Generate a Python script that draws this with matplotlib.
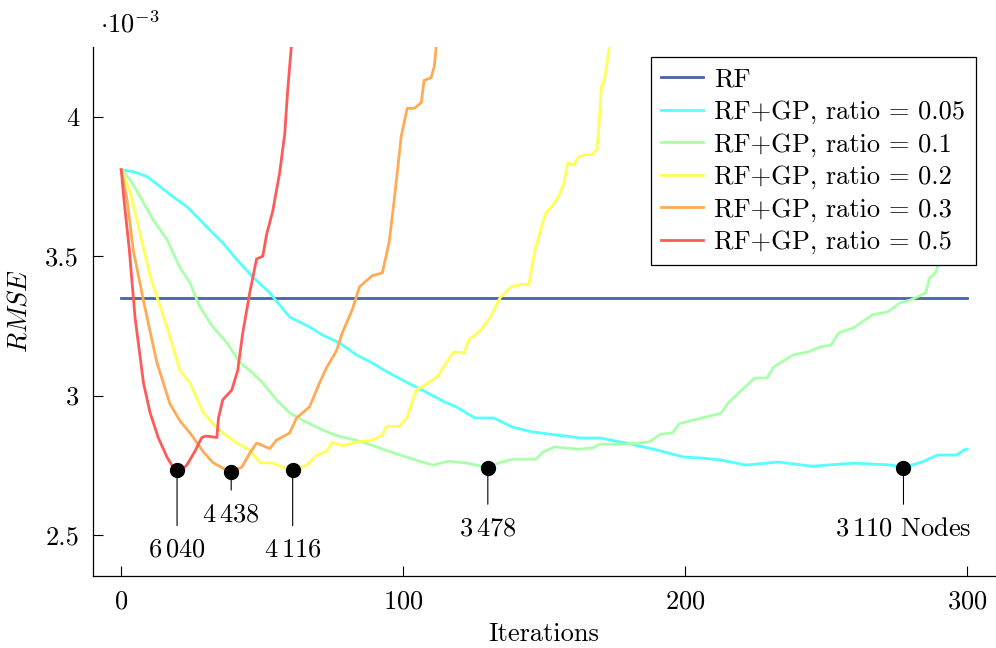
import matplotlib
matplotlib.use("Agg")
import matplotlib.pyplot as plt
from matplotlib.ticker import FuncFormatter

# RMSE values are in units of 1e-3 (shown as "·10^-3" above the axis)
rf_x = [0, 300]
rf_y = [3.35, 3.35]

r05_x = [0, 4.3, 9.2, 13.8, 18.4, 23.3, 26.9, 31.4, 36, 41, 46.6, 52.7, 59.7, 66.8,
         71.4, 77.4, 83.4, 89, 95, 101, 106.7, 114.7, 118.7, 125.4, 132, 138.8, 145.6,
         155, 163, 169.8, 179, 190, 199.3, 206, 212.7, 221.6, 232.9, 244.9, 259.7,
         273.2, 277.4, 284, 289.4, 296.1, 299.4, 300]
r05_y = [3.81, 3.803, 3.785, 3.749, 3.713, 3.677, 3.641, 3.594, 3.548, 3.487, 3.426,
         3.368, 3.282, 3.246, 3.217, 3.189, 3.146, 3.117, 3.081, 3.049, 3.02, 2.977,
         2.96, 2.92, 2.92, 2.887, 2.87, 2.858, 2.848, 2.848, 2.83, 2.805, 2.78, 2.776,
         2.769, 2.751, 2.762, 2.747, 2.758, 2.751, 2.742, 2.762, 2.787, 2.787, 2.808,
         2.808]

r1_x = [0, 3.2, 6.7, 11.3, 16.2, 20.8, 24.4, 27.9, 32.5, 37.5, 42, 46.6, 50.2, 55.1,
        59.7, 64.3, 69.3, 73.9, 78.4, 83.4, 89, 95, 101, 106.7, 110.6, 115.9, 122.6,
        128.8, 130, 133.6, 138.9, 147, 149.6, 153.7, 161.8, 167.1, 169.8, 179, 187.3,
        191.2, 195.4, 198, 206, 212.7, 215.5, 220.8, 224.7, 229, 231.4, 238.3, 243.7,
        247.7, 251.8, 254.4, 259.7, 266.4, 271.9, 276, 279.9, 285.3, 286.6, 288.7,
        289.4, 292, 296, 300]
r1_y = [3.81, 3.774, 3.713, 3.63, 3.56, 3.46, 3.404, 3.318, 3.246, 3.189, 3.12, 3.081,
        3.045, 2.984, 2.938, 2.912, 2.887, 2.866, 2.851, 2.84, 2.822, 2.80, 2.78, 2.762,
        2.751, 2.765, 2.758, 2.745, 2.74, 2.758, 2.772, 2.772, 2.798, 2.816, 2.808,
        2.812, 2.826, 2.826, 2.834, 2.862, 2.866, 2.90, 2.92, 2.937, 2.977, 3.027,
        3.063, 3.063, 3.103, 3.146, 3.157, 3.174, 3.182, 3.225, 3.243, 3.29, 3.30,
        3.332, 3.343, 3.368, 3.422, 3.44, 3.46, 3.56, 3.65, 3.75]

r2_x = [0, 3.2, 6.7, 10.2, 13.8, 17.3, 20.8, 24.4, 29, 32.5, 36, 41, 45.6, 49.1, 53.7,
        57.2, 60.8, 65.7, 69.3, 72.8, 74.9, 78.4, 83.4, 89, 92.6, 94, 98.6, 101.3,
        104.6, 108, 112, 115.9, 118, 121.5, 123.3, 127.5, 130.8, 134.3, 138.2, 142.4,
        144.5, 145.6, 147, 150.5, 152.7, 155, 157, 158.3, 160.4, 162.2, 164.7, 166.8,
        168.6, 169.3, 170.3, 171.4, 173.1, 174]
r2_y = [3.81, 3.73, 3.58, 3.43, 3.32, 3.21, 3.09, 3.045, 2.94, 2.90, 2.866, 2.83, 2.805,
        2.76, 2.758, 2.744, 2.733, 2.75, 2.787, 2.80, 2.833, 2.82, 2.833, 2.84, 2.858,
        2.89, 2.89, 2.92, 3.02, 3.04, 3.067, 3.128, 3.157, 3.153, 3.20, 3.235, 3.28,
        3.35, 3.39, 3.40, 3.397, 3.46, 3.533, 3.655, 3.677, 3.713, 3.762, 3.835, 3.827,
        3.856, 3.864, 3.864, 3.88, 3.953, 4.108, 4.133, 4.25, 4.32]

r3_x = [0, 2.1, 4.3, 7.9, 12.6, 17.3, 20.8, 24.4, 29, 32.5, 36, 39, 42.8, 45.6, 48,
        52.7, 55, 59.7, 62.2, 66.8, 70.3, 72.8, 76.3, 78.4, 82, 84.5, 89, 92.6, 95,
        96.8, 99.3, 101.4, 103.9, 106.4, 107.4, 109.9, 111, 111.7, 112.5]
r3_y = [3.81, 3.70, 3.52, 3.34, 3.12, 2.97, 2.91, 2.866, 2.80, 2.76, 2.74, 2.726, 2.744,
        2.794, 2.83, 2.81, 2.84, 2.866, 2.92, 2.96, 3.045, 3.10, 3.16, 3.225, 3.31,
        3.39, 3.43, 3.44, 3.55, 3.70, 3.93, 4.03, 4.03, 4.05, 4.13, 4.14, 4.18, 4.25,
        4.35]

r5_x = [0, 1, 2.9, 4.9, 7.9, 10.2, 13.1, 16.2, 18, 19.8, 22, 23.2, 26.1, 28.6, 30,
        33.9, 34.5, 36, 39.2, 41.3, 43.1, 45.6, 48, 50.2, 51.6, 53.7, 56.2, 58, 59,
        60.3, 61]
r5_y = [3.81, 3.70, 3.52, 3.28, 3.045, 2.94, 2.85, 2.78, 2.75, 2.733, 2.74, 2.75, 2.80,
        2.85, 2.855, 2.85, 2.92, 2.985, 3.02, 3.09, 3.225, 3.37, 3.49, 3.50, 3.58, 3.66,
        3.80, 3.94, 4.09, 4.25, 4.35]

# best iteration per run and its node count
min_x = [19.8, 39, 60.8, 130, 277.4]
min_y = [2.733, 2.726, 2.733, 2.740, 2.740]
min_labels = [r"$6\,040$", r"$4\,438$", r"$4\,116$", r"$3\,478$", r"$3\,110$ Nodes"]
pin_dist = [49, 22, 49, 35, 35]

series = [
    (rf_x, rf_y, "RF", "#4862ad"),
    (r05_x, r05_y, "RF+GP, ratio = 0.05", "#55ffff"),
    (r1_x, r1_y, "RF+GP, ratio = 0.1", "#aaffaa"),
    (r2_x, r2_y, "RF+GP, ratio = 0.2", "#ffff55"),
    (r3_x, r3_y, "RF+GP, ratio = 0.3", "#ffaa55"),
    (r5_x, r5_y, "RF+GP, ratio = 0.5", "#ff5a5a"),
]

plt.rcParams["font.family"] = "serif"
plt.rcParams["font.serif"] = ["cmr10"]
plt.rcParams["mathtext.fontset"] = "cm"
plt.rcParams["axes.formatter.use_mathtext"] = True
plt.rcParams["font.size"] = 19

fig = plt.figure(figsize=(9.96, 6.48), dpi=100)
ax = fig.add_axes([0.0934, 0.111, 0.906, 0.8165])

for xs, ys, lab, col in series:
    ax.plot(xs, ys, color=col, lw=2.0, label=lab)

ax.plot(min_x, min_y, "o", color="black", ms=10, zorder=5)
for x, y, lab, d in zip(min_x, min_y, min_labels, pin_dist):
    ax.annotate(lab, xy=(x, y), xytext=(0, -d), textcoords="offset points",
                ha="center", va="top", fontsize=19,
                arrowprops=dict(arrowstyle="-", color="black", lw=0.8,
                                shrinkA=7, shrinkB=0))

ax.set_xlim(-10, 310)
ax.set_ylim(2.353, 4.25)
ax.set_xticks([0, 100, 200, 300])
ax.set_yticks([2.5, 3, 3.5, 4])
ax.yaxis.set_major_formatter(FuncFormatter(lambda v, p: f"{v:g}"))
ax.tick_params(direction="in", length=7, width=0.8, pad=10)
for s in ("top", "right"):
    ax.spines[s].set_visible(False)
for s in ("left", "bottom"):
    ax.spines[s].set_linewidth(0.9)

ax.set_xlabel("Iterations", labelpad=6)
ax.set_ylabel(r"$RMSE$", labelpad=10)
ax.text(0.008, 1.018, r"$\cdot 10^{-3}$", transform=ax.transAxes,
        ha="left", va="bottom", fontsize=19)

leg = ax.legend(loc="upper right", bbox_to_anchor=(0.978, 0.981), fancybox=False,
                framealpha=1, edgecolor="black", handlelength=1.6, handletextpad=0.4,
                labelspacing=0.33, borderpad=0.4, borderaxespad=0)
leg.get_frame().set_linewidth(0.9)

fig.savefig("out.png", dpi=100)
